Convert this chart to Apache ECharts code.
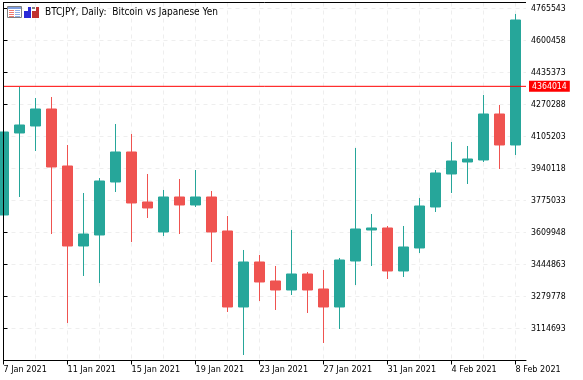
<!DOCTYPE html>
<html><head><meta charset="utf-8">
<style>html,body{margin:0;padding:0;background:#fff}#c{width:583px;height:380px}</style>
<script src="https://cdn.jsdelivr.net/npm/echarts@6/dist/echarts.min.js"></script>
</head><body><div id="c"></div>
<script>
const dates = ['7 Jan 2021','8 Jan 2021','9 Jan 2021','10 Jan 2021','11 Jan 2021','12 Jan 2021','13 Jan 2021','14 Jan 2021','15 Jan 2021','16 Jan 2021','17 Jan 2021','18 Jan 2021','19 Jan 2021','20 Jan 2021','21 Jan 2021','22 Jan 2021','23 Jan 2021','24 Jan 2021','25 Jan 2021','26 Jan 2021','27 Jan 2021','28 Jan 2021','29 Jan 2021','30 Jan 2021','31 Jan 2021','1 Feb 2021','2 Feb 2021','3 Feb 2021','4 Feb 2021','5 Feb 2021','6 Feb 2021','7 Feb 2021','8 Feb 2021'];
const opens  = [3700230,4123260,4159373,4247074,3953017,3540305,3597052,3870474,4025241,3767296,3612529,3793091,3751819,3793091,3617688,3225612,3457762,3359743,3313313,3395855,3318472,3225612,3462921,3622847,3633165,3411332,3529987,3741502,3911745,3973652,3983970,4221279,4061353];
const closes = [4128419,4164532,4247074,3947858,3540305,3602111,3875633,4025241,3762137,3736343,3793091,3751819,3793091,3612529,3225612,3457762,3354584,3313313,3395855,3313313,3225612,3468080,3628006,3633165,3411332,3535146,3746661,3916904,3978811,3989129,4221279,4061353,4706216];
const lows   = [3700230,3793091,4030400,3602111,3143069,3385538,3349425,3818885,3560940,3684754,3591894,3602111,3741502,3457762,3199817,2977984,3256565,3210135,3287518,3194658,3039891,3112116,3339107,3437127,3370061,3380379,3504192,3715707,3813726,3860156,3973652,3937540,4009764];
const highs  = [4128419,4360570,4303822,4308981,4061353,3813726,3891110,4169690,4118101,3911745,3829203,3885951,3932381,3824044,3695072,3519669,3493874,3437127,3622847,3406173,3416491,3478398,4045877,3705389,3643483,3643483,3787932,3932381,4076830,4056195,4319298,4267709,4737169];
const yTicks = [3114693,3279778,3444863,3609948,3775033,3940118,4105203,4270288,4435373,4600458,4765543];
const xLabelIdx = [0,4,8,12,16,20,24,28,32];
const xGridIdx = [0,2,4,6,8,10,12,14,16,18,20,22,24,26,28,30,32];
const lastPrice = 4364014;
const titleText = 'BTCJPY, Daily:  Bitcoin vs Japanese Yen';
const FONT = '"DejaVu Sans Condensed","DejaVu Sans",sans-serif';
const UP = '#26a69a', DOWN = '#ef5350';
const X_MAX = 32.656;
const candle = dates.map((d,i)=>[i,opens[i],closes[i],lows[i],highs[i]]);
const gridLine = {show:true,lineStyle:{color:'#eeeeee',type:[4,4],width:1}};
const chart = echarts.init(document.getElementById('c'),null,{renderer:'canvas'});
const rect=(x,y,w,h,fill,z)=>({type:'rect',silent:true,z:z||60,shape:{x,y,width:w,height:h},style:{fill}});
chart.setOption({
  animation:false,
  backgroundColor:'#fff',
  grid:{left:3.5,top:2.5,width:522.5,height:358,containLabel:false,show:false},
  xAxis:[{
    type:'value',min:0,max:X_MAX,position:'bottom',
    axisLine:{show:true,lineStyle:{color:'#000',width:1}},
    axisTick:{show:true,length:4,lineStyle:{color:'#000'},customValues:xLabelIdx},
    axisLabel:{show:true,customValues:xLabelIdx,formatter:v=>dates[v]||'',align:'left',margin:5,color:'#000',fontFamily:FONT,fontSize:9,hideOverlap:false,showMinLabel:true,showMaxLabel:true},
    splitLine:{show:false}
  },{
    type:'value',min:0,max:X_MAX,position:'bottom',
    axisLine:{show:false},axisTick:{show:false,customValues:xGridIdx},axisLabel:{show:false},
    splitLine:gridLine
  }],
  yAxis:{
    type:'value',min:2949610,max:4796496,position:'right',scale:true,
    axisLine:{show:true,lineStyle:{color:'#000',width:1}},
    axisTick:{show:true,length:4,lineStyle:{color:'#000'},customValues:yTicks},
    axisLabel:{show:true,customValues:yTicks,formatter:v=>String(v),margin:5,color:'#000',fontFamily:FONT,fontSize:8.7},
    splitLine:gridLine
  },
  graphic:[
    {type:'line',silent:true,z:50,shape:{x1:3.5,y1:2,x2:3.5,y2:361},style:{stroke:'#000',lineWidth:1}},
    {type:'line',silent:true,z:50,shape:{x1:3,y1:2.5,x2:526,y2:2.5},style:{stroke:'#000',lineWidth:1}},
    {type:'text',silent:true,z:60,style:{x:45,y:12,text:titleText,fill:'#000',font:'10px '+FONT,textVerticalAlign:'middle'}},
    {type:'rect',silent:true,z:60,shape:{x:7.5,y:6.5,width:14,height:11},style:{fill:'#fff',stroke:'#808080'}},
    rect(8,7,13,2,'#7f9fe0',61),
    rect(9,10,5,1,'#f07a70',61),rect(9,12,5,1,'#f07a70',61),rect(9,14,5,1,'#f07a70',61),rect(9,16,5,1,'#f07a70',61),
    rect(15,10,5,1,'#8fb0e8',61),rect(15,12,5,1,'#8fb0e8',61),rect(15,14,5,1,'#8fb0e8',61),rect(15,16,5,1,'#8fb0e8',61),
    rect(24,11,7,7,'#2a2ad8'),rect(28,7,3,5,'#2a2ad8'),
    rect(32,11,7,7,'#c03030'),rect(36,7,3,5,'#c03030'),rect(32,7,3,2,'#808080')
  ],
  series:[{
    type:'candlestick',xAxisIndex:0,yAxisIndex:0,barWidth:11,clip:true,
    encode:{x:0,y:[1,2,3,4]},
    itemStyle:{color:UP,color0:DOWN,borderColor:UP,borderColor0:DOWN,borderWidth:1},
    data:candle
  },{
    type:'line',xAxisIndex:0,yAxisIndex:0,z:10,silent:true,showSymbol:false,symbol:'none',
    lineStyle:{color:'#ff0000',width:1,type:'solid'},itemStyle:{color:'#ff0000'},
    data:[[0,lastPrice],[X_MAX,lastPrice]],
    endLabel:{show:true,formatter:()=>String(lastPrice),color:'#fff',backgroundColor:'#ff0000',padding:[1,3,1,3],fontFamily:FONT,fontSize:8.7,distance:3}
  }]
});
</script></body></html>
